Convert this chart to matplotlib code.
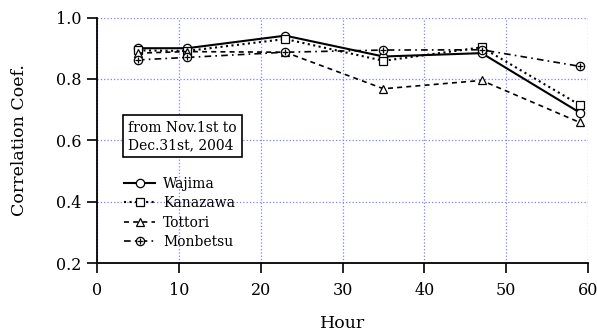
import matplotlib.pyplot as plt
from matplotlib.legend_handler import HandlerTuple

plt.rcParams['font.family'] = ['DejaVu Serif']

hours = [5, 11, 23, 35, 47, 59]
wajima = [0.900, 0.900, 0.941, 0.873, 0.884, 0.690]
kanazawa = [0.893, 0.891, 0.930, 0.859, 0.903, 0.715]
tottori = [0.884, 0.889, 0.887, 0.768, 0.795, 0.658]
monbetsu = [0.862, 0.870, 0.887, 0.894, 0.895, 0.841]

fig = plt.figure(figsize=(5.97, 3.31), dpi=100)
ax = fig.add_axes([0.1625, 0.2054, 0.8225, 0.7416])

mk = dict(markersize=6, markerfacecolor='white', markeredgecolor='black',
          markeredgewidth=0.9, color='black')

l1, = ax.plot(hours, wajima, '-', marker='o', lw=1.5, **mk)
l2, = ax.plot(hours, kanazawa, ':', marker='s', lw=1.5, **mk)
l3, = ax.plot(hours, tottori, '--', marker='^', lw=1.2, dashes=(3, 2.5), **mk)
l4, = ax.plot(hours, monbetsu, '-.', marker='o', lw=1.2, dashes=(4, 2.5, 1, 2.5), **mk)
p4, = ax.plot(hours, monbetsu, ls='none', marker='+', markersize=5,
              markeredgewidth=0.9, color='black')

ax.set_xlim(0, 60)
ax.set_ylim(0.2, 1.0)
ax.set_xticks(range(0, 61, 10))
ax.set_yticks([0.2, 0.4, 0.6, 0.8, 1.0])
ax.grid(True, color='#7f7fff', ls=':', lw=0.9)
ax.set_axisbelow(True)
for s in ['top', 'right']:
    ax.spines[s].set_visible(False)
for s in ['left', 'bottom']:
    ax.spines[s].set_linewidth(1.3)
ax.tick_params(direction='out', length=7, width=1.2, labelsize=11.5)
ax.tick_params(axis='y', pad=4)
ax.tick_params(axis='x', pad=7)

ax.set_xlabel('Hour', fontsize=12.5, labelpad=11)
ax.set_ylabel('Correlation Coef.', fontsize=12.5, labelpad=20)

ax.text(3.8, 0.613, 'from Nov.1st to\nDec.31st, 2004', fontsize=10,
        va='center', ha='left', linespacing=1.3,
        bbox=dict(boxstyle='square,pad=0.4', fc='white', ec='black', lw=1.2))

ax.legend([l1, l2, l3, (l4, p4)], ['Wajima', 'Kanazawa', 'Tottori', 'Monbetsu'],
          handler_map={tuple: HandlerTuple(ndivide=1, pad=0)},
          loc='lower left', bbox_to_anchor=(0.03, 0.005), frameon=False,
          fontsize=10, handlelength=2.2, handletextpad=0.6, labelspacing=0.4)

fig.savefig('out.png')
